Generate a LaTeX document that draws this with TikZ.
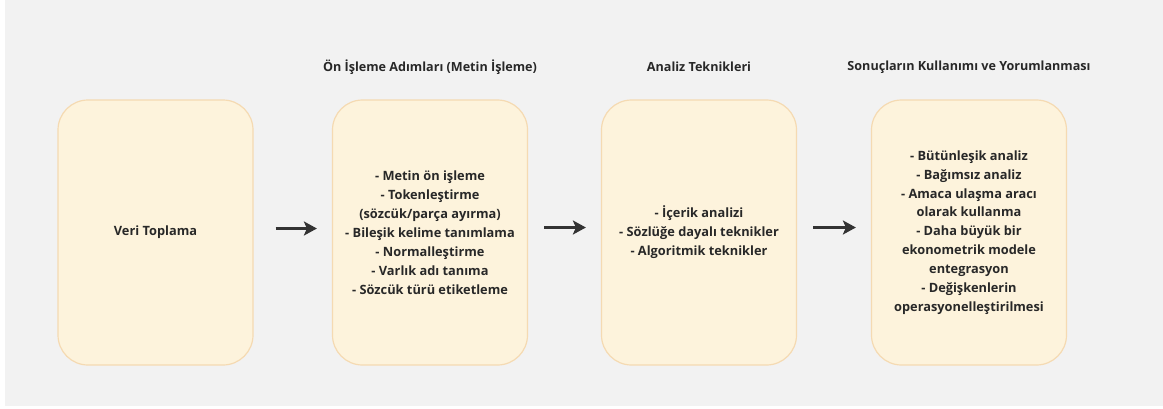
\documentclass[tikz,border=0pt]{standalone}
\usepackage{fontspec}
\setmainfont{Open Sans}
\usetikzlibrary{arrows.meta}
\definecolor{pagebg}{HTML}{F2F2F2}
\definecolor{boxfill}{HTML}{FDF3DC}
\definecolor{boxline}{HTML}{F5DAB2}
\definecolor{ink}{HTML}{282828}
\tikzset{
  stage/.style={draw=boxline, fill=boxfill, line width=1.2pt, rounded corners=30pt,
    minimum width=195pt, minimum height=265pt, inner sep=0pt,
    align=center, text=ink, font=\bfseries\fontsize{12.8}{18.9}\selectfont},
  heading/.style={text=ink, font=\bfseries\fontsize{12.6}{15}\selectfont, inner sep=0pt},
  flow/.style={draw=ink!95, line width=3.4pt,
    -{Stealth[length=13pt,width=14pt,inset=3pt]}, shorten >=15pt, shorten <=16pt}
}
\begin{document}
\begin{tikzpicture}[x=1pt,y=-1pt]
  % page background with a thin white margin on the left and bottom
  \fill[white] (0,0) rectangle (1163,408);
  \fill[pagebg] (5,0) rectangle (1163,406);
  \useasboundingbox (0,0) rectangle (1163,408);

  % stages
  \node[stage] (collect) at (155.5,232.5) {Veri Toplama};
  \node[stage] (prep) at (430,232.5) {- Metin ön işleme\\- Tokenleştirme\\(sözcük/parça ayırma)\\- Bileşik kelime tanımlama\\- Normalleştirme\\- Varlık adı tanıma\\- Sözcük türü etiketleme};
  \node[stage] (analysis) at (699,232.5) {- İçerik analizi\\- Sözlüğe dayalı teknikler\\- Algoritmik teknikler};
  \node[stage] (use) at (969,232.5) {- Bütünleşik analiz\\- Bağımsız analiz\\- Amaca ulaşma aracı\\olarak kullanma\\- Daha büyük bir\\ekonometrik modele\\entegrasyon\\- Değişkenlerin\\operasyonelleştirilmesi};

  % column headings
  \node[heading] (hprep) at (430,67) {Ön İşleme Adımları (Metin İşleme)};
  \node[heading] (hanalysis) at (699,67) {Analiz Teknikleri};
  \node[heading] (huse) at (969,67) {Sonuçların Kullanımı ve Yorumlanması};

  % flow between stages, drawn slightly below the box centres
  \draw[flow, shorten <=22pt] ([yshift=4pt]collect.east) -- ([yshift=4pt]prep.west);
  \draw[flow] ([yshift=5pt]prep.east) -- ([yshift=5pt]analysis.west);
  \draw[flow] ([yshift=5pt]analysis.east) -- ([yshift=5pt]use.west);
\end{tikzpicture}
\end{document}
